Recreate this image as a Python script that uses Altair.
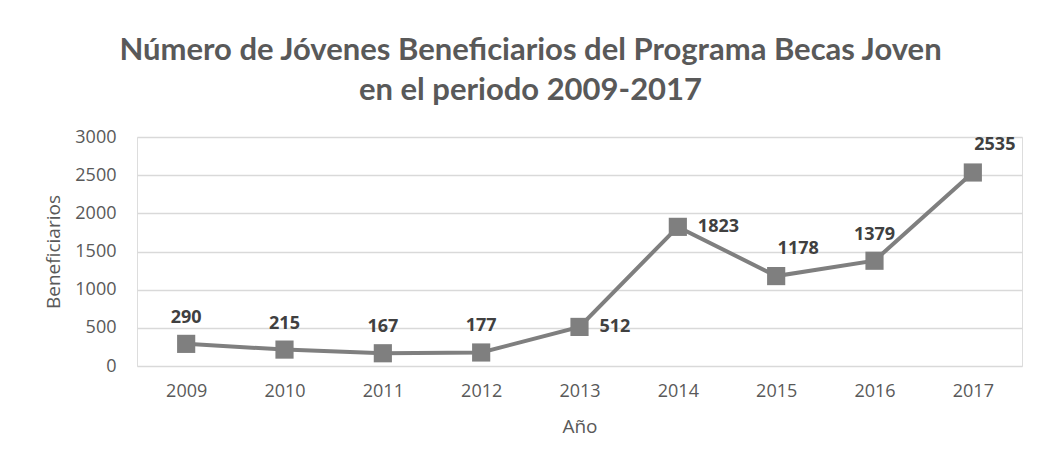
import altair as alt
import pandas as pd

years = ["2009", "2010", "2011", "2012", "2013", "2014", "2015", "2016", "2017"]
values = [290, 215, 167, 177, 512, 1823, 1178, 1379, 2535]
label_side = ["above", "above", "above", "above", "right", "right", "aboveright", "above", "aboveright"]

df = pd.DataFrame({"Año": years, "Beneficiarios": values, "side": label_side})

GREY = "#7f7f7f"
TXT = "#595959"

base = alt.Chart(df).encode(
    x=alt.X("Año:N", sort=years,
            scale=alt.Scale(paddingInner=0, paddingOuter=0.5, align=0.5),
            axis=alt.Axis(title="Año", labelAngle=0, labelFont="Open Sans", labelFontSize=18,
                          labelColor=TXT, titleFont="Open Sans", titleFontSize=19,
                          titleColor=TXT, titleFontWeight="normal", labelPadding=16,
                          titlePadding=17, ticks=False, domain=False, grid=False)),
    y=alt.Y("Beneficiarios:Q", scale=alt.Scale(domain=[0, 3000]),
            axis=alt.Axis(title="Beneficiarios", values=[0, 500, 1000, 1500, 2000, 2500, 3000],
                          format="d",
                          labelFont="Open Sans", labelFontSize=18, labelColor=TXT,
                          titleFont="Open Sans", titleFontSize=19, titleColor=TXT,
                          titleFontWeight="normal", labelPadding=21, titlePadding=11,
                          ticks=False, domain=False, gridColor="#d9d9d9", gridWidth=1.5)),
)

line = base.mark_line(color=GREY, strokeWidth=4)
pts = base.mark_point(shape="square", filled=True, size=330, color=GREY, opacity=1)

lbl = dict(font="Open Sans", fontSize=18, fontWeight="bold", color="#404040")
above = base.mark_text(dy=-26, **lbl).encode(text="Beneficiarios:Q").transform_filter(alt.datum.side == "above")
right = base.mark_text(dx=20, align="left", dy=0, **lbl).encode(text="Beneficiarios:Q").transform_filter(alt.datum.side == "right")
aboveright = base.mark_text(dx=22, dy=-27, **lbl).encode(text="Beneficiarios:Q").transform_filter(alt.datum.side == "aboveright")

chart = alt.layer(line, pts, above, right, aboveright).properties(
    width=885, height=229,
    title=alt.TitleParams(
        text=["Número de Jóvenes Beneficiarios del Programa Becas Joven", "en el periodo 2009-2017"],
        font="Lato", fontSize=31, fontWeight="bold", color=TXT, lineHeight=40,
        anchor="middle", dx=-49, offset=21),
    autosize=alt.AutoSizeParams(type="none"),
    padding={"left": 129, "top": 129, "right": 9, "bottom": 89},
).configure_view(stroke=None).configure(background="white")

chart.save("out.html", embed_options={"renderer": "svg", "actions": False})
